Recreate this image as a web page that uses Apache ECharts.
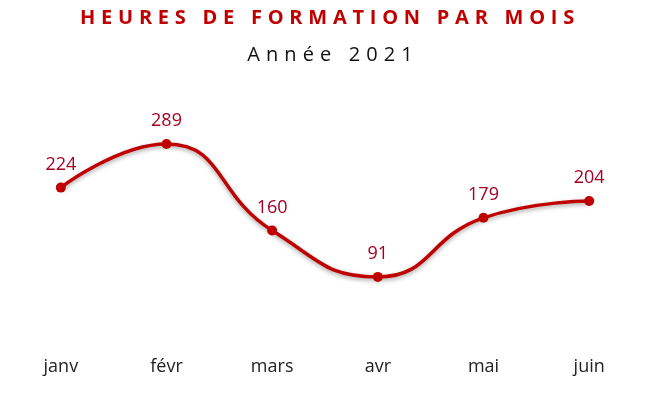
<!DOCTYPE html>
<html><head><meta charset="utf-8">
<script src="https://cdn.jsdelivr.net/npm/echarts@6/dist/echarts.min.js"></script>
<style>
html,body{margin:0;padding:0;background:#fff;}
#wrap{position:relative;width:666px;height:397px;}
#chart{position:absolute;left:0;top:0;width:666px;height:397px;}
.t{position:absolute;width:666px;text-align:center;white-space:nowrap;font-family:"Open Sans","Noto Sans",sans-serif;}
#t1{left:-3px;top:3px;font-size:20px;font-weight:bold;color:#C00000;letter-spacing:5.75px;}
#t2{left:0px;top:40px;font-size:20px;color:#111;letter-spacing:6.1px;}
</style></head>
<body><div id="wrap"><div id="chart"></div>
<div class="t" id="t1">HEURES DE FORMATION PAR MOIS</div>
<div class="t" id="t2">Année 2021</div></div>
<script>
const categories = ["janv","févr","mars","avr","mai","juin"];
const hours = [224, 289, 160, 91, 179, 204];
const chart = echarts.init(document.getElementById('chart'), null, {renderer:'canvas'});
chart.setOption({
  animation:false,
  grid:{left:8,right:24,top:103,bottom:59,containLabel:false},
  xAxis:{type:'category',data:categories,boundaryGap:true,
    axisLine:{show:false},axisTick:{show:false},
    axisLabel:{color:'#222',fontSize:18,fontFamily:'"Open Sans","Noto Sans",sans-serif',margin:20}},
  yAxis:{type:'value',min:0,max:350,show:false,splitLine:{show:false}},
  series:[{type:'line',data:hours,smooth:0.5,symbol:'circle',symbolSize:10,
    lineStyle:{color:'#C00000',width:3.5,shadowColor:'rgba(0,0,0,0.35)',shadowBlur:4,shadowOffsetY:2},
    itemStyle:{color:'#C00000'},
    label:{show:true,position:'top',distance:9,color:'#A50021',fontSize:18,fontFamily:'"Open Sans","Noto Sans",sans-serif'}}]
});
</script></body></html>
